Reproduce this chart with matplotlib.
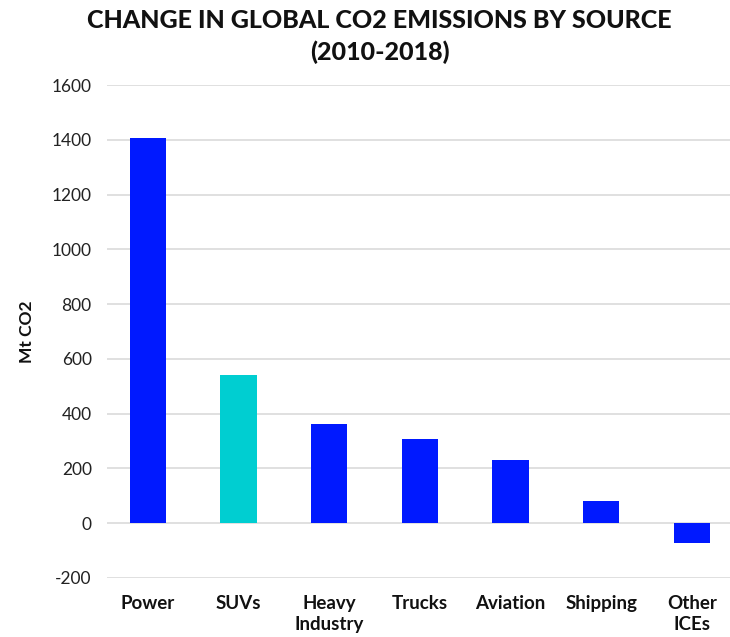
import matplotlib.pyplot as plt
import numpy as np

plt.rcParams['font.family'] = ['Lato', 'DejaVu Sans']

sources = ['Power', 'SUVs', 'Heavy\nIndustry', 'Trucks', 'Aviation', 'Shipping', 'Other\nICEs']
change = [1405, 542, 363, 307, 232, 80, -73]
colors = ['#0019ff', '#00ced1', '#0019ff', '#0019ff', '#0019ff', '#0019ff', '#0019ff']
yticks = [-200, 0, 200, 400, 600, 800, 1000, 1200, 1400, 1600]

fig = plt.figure(figsize=(7.3, 6.37), dpi=100)
ax = fig.add_axes([107 / 730, 1 - 578 / 637, 1 - 107 / 730, (578 - 85) / 637])

x = np.arange(len(sources))
ax.bar(x, change, width=0.4, color=colors, zorder=3)

ax.set_xlim(-0.45, 6.42)
ax.set_ylim(-200, 1600)
ax.set_yticks(yticks)
ax.set_yticklabels([str(v) for v in yticks], fontsize=12.5, color='#222222')
ax.set_xticks(x)
ax.set_xticklabels(sources, fontsize=13.5, fontweight='bold', color='#111111', linespacing=1.3, va='top')
ax.tick_params(axis='both', length=0)
ax.tick_params(axis='y', pad=11)
ax.tick_params(axis='x', pad=12)
ax.yaxis.grid(True, color='#dddddd', linewidth=1.3, zorder=0)
for s in ax.spines.values():
    s.set_visible(False)

ax.set_ylabel('Mt CO2', fontsize=12.5, fontweight='bold', color='#111111', labelpad=12)

fig.text(0.52, 0.986, 'CHANGE IN GLOBAL CO2 EMISSIONS BY SOURCE\n(2010-2018)',
         ha='center', va='top', fontsize=18, fontweight='black', color='#111111', linespacing=1.45)

fig.savefig('out.png', dpi=100)
